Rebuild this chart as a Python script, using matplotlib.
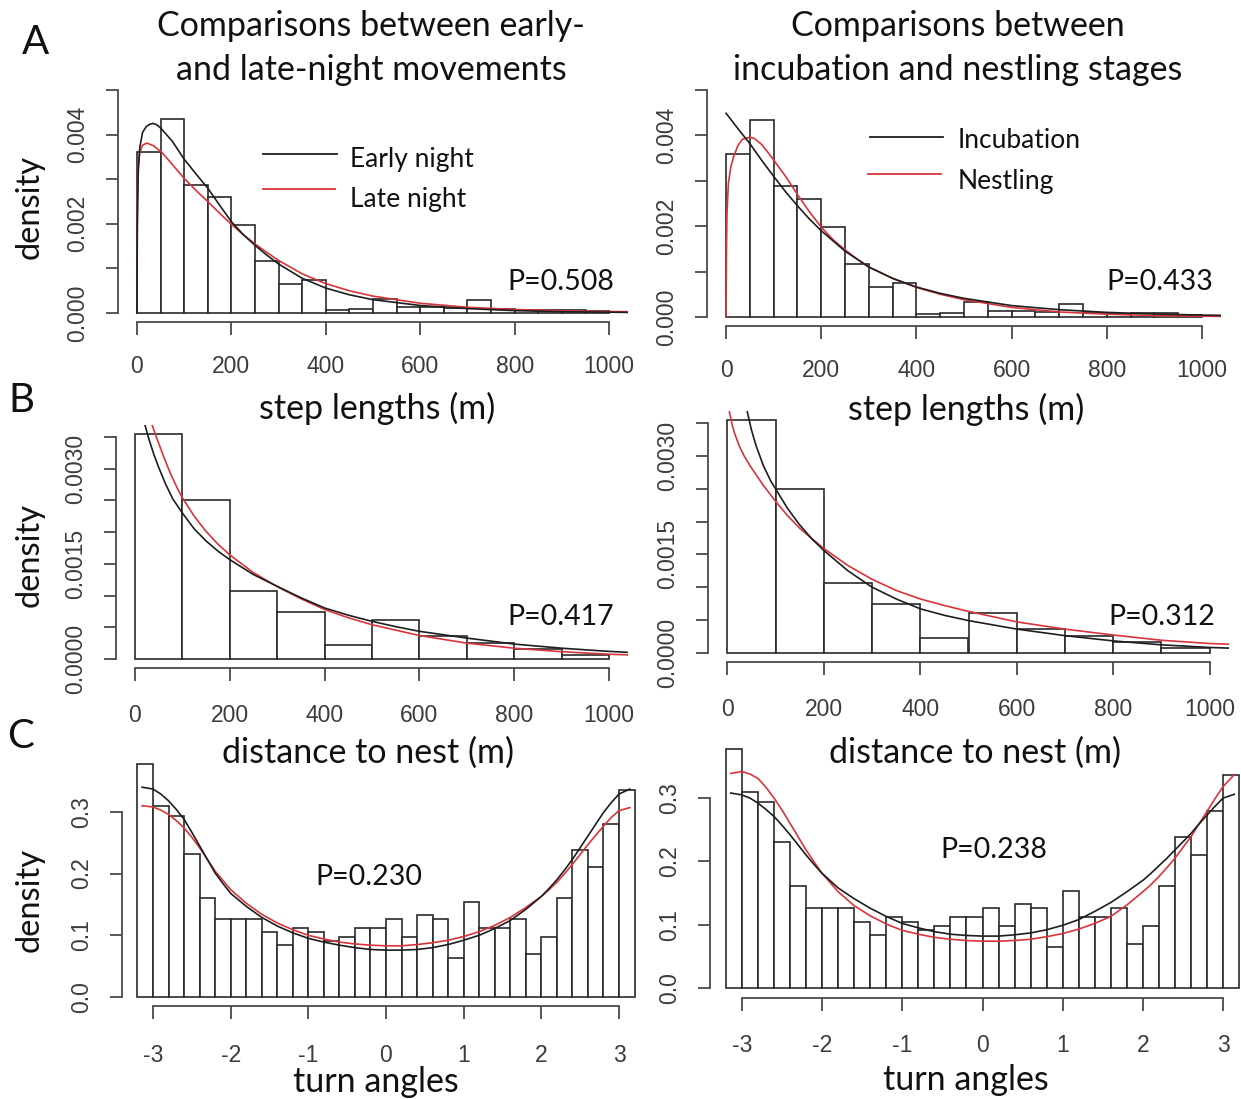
import matplotlib
matplotlib.use("Agg")
import matplotlib.pyplot as plt
from matplotlib.lines import Line2D

# ---------------- data ----------------
# step length histogram (bin width 50 m), density x 1e-3
step_edges = list(range(0, 1001, 50))
step_density = [3.60, 4.34, 2.88, 2.59, 1.98, 1.16, 0.65, 0.74, 0.06, 0.09,
                0.32, 0.14, 0.14, 0.11, 0.29, 0.09, 0.06, 0.08, 0.08, 0.05]

# A-left curves (x 1e-3)
a_early_x = [0, 1, 3, 6, 12, 20, 27, 34, 42, 50, 75, 100, 125, 150, 175, 200,
             225, 250, 275, 300, 350, 400, 450, 500, 600, 700, 800, 900, 1000, 1040]
a_early_y = [0, 2.0, 3.2, 3.7, 4.05, 4.18, 4.23, 4.25, 4.22, 4.15, 3.85, 3.45,
             3.12, 2.8, 2.42, 2.05, 1.76, 1.52, 1.3, 1.1, 0.78, 0.56, 0.41, 0.30,
             0.17, 0.10, 0.055, 0.03, 0.02, 0.015]
a_late_x = [0, 1, 3, 6, 12, 21, 35, 53, 75, 100, 125, 150, 175, 200, 225, 250,
            275, 300, 350, 400, 450, 500, 600, 700, 800, 900, 1000, 1040]
a_late_y = [0, 2.6, 3.3, 3.6, 3.76, 3.81, 3.75, 3.6, 3.33, 3.02, 2.75, 2.5,
            2.24, 1.99, 1.76, 1.55, 1.36, 1.18, 0.88, 0.66, 0.5, 0.38, 0.22,
            0.13, 0.08, 0.05, 0.035, 0.03]

# A-right curves (x 1e-3)
a_incub_x = [0, 25, 50, 75, 100, 125, 150, 175, 200, 250, 300, 350, 400, 450,
             500, 600, 700, 800, 900, 1000, 1040]
a_incub_y = [4.49, 4.15, 3.82, 3.45, 3.1, 2.76, 2.45, 2.16, 1.9, 1.45, 1.1,
             0.85, 0.66, 0.52, 0.41, 0.25, 0.16, 0.10, 0.065, 0.04, 0.035]
a_nest_x = [0, 1, 2, 5, 10, 15, 25, 35, 50, 60, 75, 90, 100, 125, 150, 175,
            200, 225, 250, 275, 300, 350, 400, 450, 500, 600, 700, 800, 900, 1000, 1040]
a_nest_y = [0, 1.5, 2.3, 2.95, 3.3, 3.5, 3.78, 3.92, 3.96, 3.93, 3.8, 3.6,
            3.46, 3.1, 2.7, 2.32, 1.98, 1.7, 1.48, 1.28, 1.1, 0.85, 0.65, 0.5,
            0.38, 0.21, 0.11, 0.06, 0.03, 0.015, 0.012]

# distance to nest histogram (bin width 100 m), density x 1e-3
dist_edges = list(range(0, 1001, 100))
dist_density = [3.545, 2.50, 1.07, 0.74, 0.22, 0.61, 0.36, 0.25, 0.16, 0.07]

# B-left curves (x 1e-3)
b_early_x = [18, 21, 30, 40, 50, 65, 80, 100, 125, 150, 175, 200, 250, 300,
             350, 400, 450, 500, 550, 600, 700, 800, 900, 1000, 1040]
b_early_y = [3.85, 3.69, 3.45, 3.22, 3.02, 2.75, 2.52, 2.3, 2.05, 1.86, 1.70,
             1.565, 1.33, 1.145, 0.965, 0.804, 0.69, 0.593, 0.51, 0.436, 0.33,
             0.235, 0.17, 0.12, 0.105]
b_late_x = [33, 36, 45, 50, 60, 75, 90, 100, 125, 150, 175, 200, 250, 300,
            350, 400, 450, 500, 600, 700, 800, 900, 1000, 1040]
b_late_y = [3.8, 3.69, 3.5, 3.4, 3.2, 2.92, 2.68, 2.54, 2.25, 2.01, 1.81,
            1.64, 1.36, 1.14, 0.95, 0.78, 0.65, 0.54, 0.37, 0.25, 0.17, 0.115,
            0.075, 0.065]

# B-right curves (x 1e-3)
b_incub_x = [38, 41, 50, 60, 75, 90, 100, 125, 150, 175, 200, 250, 300, 350,
             400, 450, 500, 600, 700, 800, 900, 1000, 1040]
b_incub_y = [3.8, 3.69, 3.4, 3.15, 2.85, 2.62, 2.5, 2.2, 1.95, 1.74, 1.56,
             1.25, 1.0, 0.82, 0.67, 0.57, 0.49, 0.36, 0.26, 0.18, 0.12, 0.08, 0.07]
b_nest_x = [2, 4, 10, 15, 25, 35, 50, 75, 100, 125, 150, 175, 200, 250, 300,
            350, 400, 450, 500, 600, 700, 800, 900, 1000, 1040]
b_nest_y = [3.8, 3.69, 3.48, 3.35, 3.15, 3.0, 2.82, 2.55, 2.31, 2.09, 1.9,
            1.74, 1.59, 1.33, 1.12, 0.95, 0.82, 0.72, 0.63, 0.47, 0.36, 0.27,
            0.19, 0.14, 0.13]

# turn angle histogram (bin width 0.2 rad)
turn_edges = [round(-3.2 + 0.2 * i, 1) for i in range(33)]
turn_density = [0.378, 0.309, 0.294, 0.231, 0.161, 0.126, 0.126, 0.126, 0.105,
                0.084, 0.112, 0.105, 0.091, 0.098, 0.112, 0.112, 0.126, 0.098,
                0.133, 0.126, 0.064, 0.154, 0.112, 0.112, 0.126, 0.070, 0.098,
                0.161, 0.238, 0.210, 0.280, 0.336]

turn_x = [-3.14, -3.0, -2.9, -2.8, -2.7, -2.6, -2.5, -2.4, -2.3, -2.2, -2.1,
          -2.0, -1.8, -1.6, -1.4, -1.2, -1.0, -0.8, -0.6, -0.4, -0.2, 0, 0.2,
          0.4, 0.6, 0.8, 1.0, 1.2, 1.4, 1.6, 1.8, 2.0, 2.1, 2.2, 2.3, 2.4, 2.5,
          2.6, 2.7, 2.8, 2.9, 3.0, 3.14]
c_early_y = [.340, .337, .329, .318, .304, .288, .267, .245, .223, .201, .184,
             .168, .147, .129, .115, .104, .095, .089, .084, .080, .077, .076,
             .076, .077, .080, .085, .092, .100, .111, .124, .142, .163, .176,
             .190, .206, .223, .242, .261, .280, .299, .315, .329, .337]
c_late_y = [.310, .308, .303, .296, .286, .274, .259, .242, .223, .204, .189,
            .174, .152, .134, .120, .109, .100, .094, .089, .086, .084, .083,
            .083, .085, .088, .092, .098, .106, .116, .129, .145, .163, .174,
            .186, .200, .215, .231, .247, .262, .277, .291, .302, .307]
c_incub_y = [.308, .305, .300, .292, .282, .271, .257, .242, .226, .210, .195,
             .181, .158, .141, .126, .113, .102, .095, .089, .085, .083, .082,
             .082, .084, .087, .092, .099, .108, .121, .135, .152, .170, .181,
             .193, .205, .218, .231, .244, .259, .273, .287, .300, .306]
c_nest_y = [.339, .342, .338, .331, .317, .300, .281, .260, .239, .218, .199,
            .181, .152, .130, .114, .101, .091, .085, .080, .077, .075, .074,
            .074, .075, .077, .081, .086, .093, .102, .113, .131, .152, .163,
            .176, .190, .205, .222, .239, .259, .279, .299, .318, .337]

p_values = ["P=0.508", "P=0.433", "P=0.417", "P=0.312", "P=0.230", "P=0.238"]

# ---------------- styling ----------------
W, H = 1241, 1099
fig = plt.figure(figsize=(W / 100, H / 100), dpi=100)
fig.patch.set_facecolor("white")

TXT = ["Lato", "DejaVu Sans"]
TICKF = ["Liberation Sans", "DejaVu Sans"]
BLACK = "#1e1e1e"
RED = "#d8343a"
EDGE = "#2a2a2a"
AXC = "#4a4a4a"
LBLC = "#3c3c3c"


def px_axes(left, right, top, bottom):
    return fig.add_axes([left / W, 1 - bottom / H, (right - left) / W, (bottom - top) / H])


def ftext(x, y, s, size, **kw):
    fig.text(x / W, 1 - y / H, s, fontsize=size, family=TXT, color="#111111", **kw)


def style(ax, xlim, ylim, xticks, yticks, ylabels, xbounds, ybounds, xpad=16):
    ax.set_xlim(*xlim)
    ax.set_ylim(*ylim)
    for s in ["top", "right"]:
        ax.spines[s].set_visible(False)
    for s in ["left", "bottom"]:
        ax.spines[s].set_color(AXC)
        ax.spines[s].set_linewidth(1.3)
    ax.spines["left"].set_bounds(*ybounds)
    ax.spines["bottom"].set_bounds(*xbounds)
    ax.set_xticks(xticks)
    ax.set_xticklabels([str(t) for t in xticks])
    ax.set_yticks(yticks)
    ax.set_yticklabels(ylabels)
    ax.tick_params(axis="both", direction="out", length=9, width=1.3, color=AXC,
                   labelsize=16.5, labelcolor=LBLC)
    ax.tick_params(axis="x", pad=xpad)
    ax.tick_params(axis="y", pad=12)
    for lab in ax.get_xticklabels() + ax.get_yticklabels():
        lab.set_family(TICKF)
    for lab in ax.get_yticklabels():
        lab.set_rotation(90)
        lab.set_va("center")
        lab.set_ha("right")
    ax.set_facecolor("none")


def hist(ax, edges, dens, scale=1.0):
    left = edges[:-1]
    widths = [edges[i + 1] - edges[i] for i in range(len(edges) - 1)]
    ax.bar(left, [d * scale for d in dens], width=widths, align="edge",
           facecolor="white", edgecolor=EDGE, linewidth=1.2, zorder=2)


def curves(ax, xb, yb, xr, yr, scale=1.0):
    ax.plot(xr, [v * scale for v in yr], color=RED, lw=1.2, zorder=3)
    ax.plot(xb, [v * scale for v in yb], color=BLACK, lw=1.2, zorder=4)


# ---------- A left ----------
ax = px_axes(118, 628, 81, 322)
hist(ax, step_edges, step_density, 1e-3)
curves(ax, a_early_x, a_early_y, a_late_x, a_late_y, 1e-3)
style(ax, (-40, 1040), (-0.0002, 0.0052), [0, 200, 400, 600, 800, 1000],
      [0, 0.001, 0.002, 0.003, 0.004, 0.005],
      ["0.000", "", "0.002", "", "0.004", ""], (0, 1000), (0, 0.005), xpad=15)

# ---------- A right ----------
ax = px_axes(707, 1221, 81, 326)
hist(ax, step_edges, step_density, 1e-3)
curves(ax, a_incub_x, a_incub_y, a_nest_x, a_nest_y, 1e-3)
style(ax, (-40, 1040), (-0.0002, 0.0052), [0, 200, 400, 600, 800, 1000],
      [0, 0.001, 0.002, 0.003, 0.004, 0.005],
      ["0.000", "", "0.002", "", "0.004", ""], (0, 1000), (0, 0.005), xpad=15)

# ---------- B left ----------
ymax_b = max(dist_density) * 1e-3
ylim_b = (-0.04 * ymax_b, 1.04 * ymax_b)
ax = px_axes(116, 628, 425, 668)
hist(ax, dist_edges, dist_density, 1e-3)
curves(ax, b_early_x, b_early_y, b_late_x, b_late_y, 1e-3)
style(ax, (-40, 1040), ylim_b, [0, 200, 400, 600, 800, 1000],
      [0, 0.0005, 0.001, 0.0015, 0.002, 0.0025, 0.003, 0.0035],
      ["0.0000", "", "", "0.0015", "", "", "0.0030", ""], (0, 1000), (0, 0.0035), xpad=17)

# ---------- B right ----------
ax = px_axes(708, 1229, 411, 662)
hist(ax, dist_edges, dist_density, 1e-3)
curves(ax, b_incub_x, b_incub_y, b_nest_x, b_nest_y, 1e-3)
style(ax, (-40, 1040), ylim_b, [0, 200, 400, 600, 800, 1000],
      [0, 0.0005, 0.001, 0.0015, 0.002, 0.0025, 0.003, 0.0035],
      ["0.0000", "", "", "0.0015", "", "", "0.0030", ""], (0, 1000), (0, 0.0035), xpad=17)

# ---------- C left ----------
ymax_c = max(turn_density)
ylim_c = (-0.04 * ymax_c, 1.04 * ymax_c)
xl_c = (-3.40, 3.40)
x0, s = 386.0, 77.67
ax = px_axes(x0 + xl_c[0] * s, x0 + xl_c[1] * s, 997 - ylim_c[1] * 617, 997 - ylim_c[0] * 617)
hist(ax, turn_edges, turn_density)
curves(ax, turn_x, c_early_y, turn_x, c_late_y)
style(ax, xl_c, ylim_c, [-3, -2, -1, 0, 1, 2, 3], [0, 0.1, 0.2, 0.3],
      ["0.0", "0.1", "0.2", "0.3"], (-3, 3), (0, 0.3), xpad=18)

# ---------- C right ----------
x0, s = 982.5, 80.17
ax = px_axes(x0 + xl_c[0] * s, x0 + xl_c[1] * s, 988 - ylim_c[1] * 633, 988 - ylim_c[0] * 633)
hist(ax, turn_edges, turn_density)
curves(ax, turn_x, c_incub_y, turn_x, c_nest_y)
style(ax, xl_c, ylim_c, [-3, -2, -1, 0, 1, 2, 3], [0, 0.1, 0.2, 0.3],
      ["0.0", "0.1", "0.2", "0.3"], (-3, 3), (0, 0.3), xpad=17)

# ---------------- text overlays ----------------
TS = 24.5
ftext(371, 26, "Comparisons between early-", TS, ha="center", va="center")
ftext(371, 70, "and late-night movements", TS, ha="center", va="center")
ftext(958, 26, "Comparisons between", TS, ha="center", va="center")
ftext(958, 70, "incubation and nestling stages", TS, ha="center", va="center")

ftext(35, 43, "A", 29, ha="center", va="center")
ftext(21, 401, "B", 29, ha="center", va="center")
ftext(21, 736, "C", 29, ha="center", va="center")

for y in (207, 555, 900):
    ftext(30, y, "density", 23.5, ha="center", va="center", rotation=90)

ftext(377, 408, "step lengths (m)", TS, ha="center", va="center")
ftext(966, 409, "step lengths (m)", TS, ha="center", va="center")
ftext(368, 753, "distance to nest (m)", TS, ha="center", va="center")
ftext(975, 753, "distance to nest (m)", TS, ha="center", va="center")
ftext(376, 1082, "turn angles", TS, ha="center", va="center")
ftext(966, 1080, "turn angles", TS, ha="center", va="center")

PS = 20.5
ftext(561, 282, p_values[0], PS, ha="center", va="center")
ftext(1160, 282, p_values[1], PS, ha="center", va="center")
ftext(561, 617, p_values[2], PS, ha="center", va="center")
ftext(1162, 617, p_values[3], PS, ha="center", va="center")
ftext(369, 877, p_values[4], PS, ha="center", va="center")
ftext(994, 850, p_values[5], PS, ha="center", va="center")


# legends (drawn as figure lines + text)
def fline(x1, x2, y, color):
    fig.add_artist(Line2D([x1 / W, x2 / W], [1 - y / H, 1 - y / H], color=color, lw=1.3,
                          transform=fig.transFigure))


LS = 19
fline(263, 337, 154, BLACK)
fline(263, 335, 189, RED)
ftext(350, 160, "Early night", LS, ha="left", va="center")
ftext(350, 200, "Late night", LS, ha="left", va="center")
fline(870, 943, 137, BLACK)
fline(868, 941, 174, RED)
ftext(958, 141, "Incubation", LS, ha="left", va="center")
ftext(958, 181, "Nestling", LS, ha="left", va="center")

fig.savefig("out.png", dpi=100, facecolor="white")
